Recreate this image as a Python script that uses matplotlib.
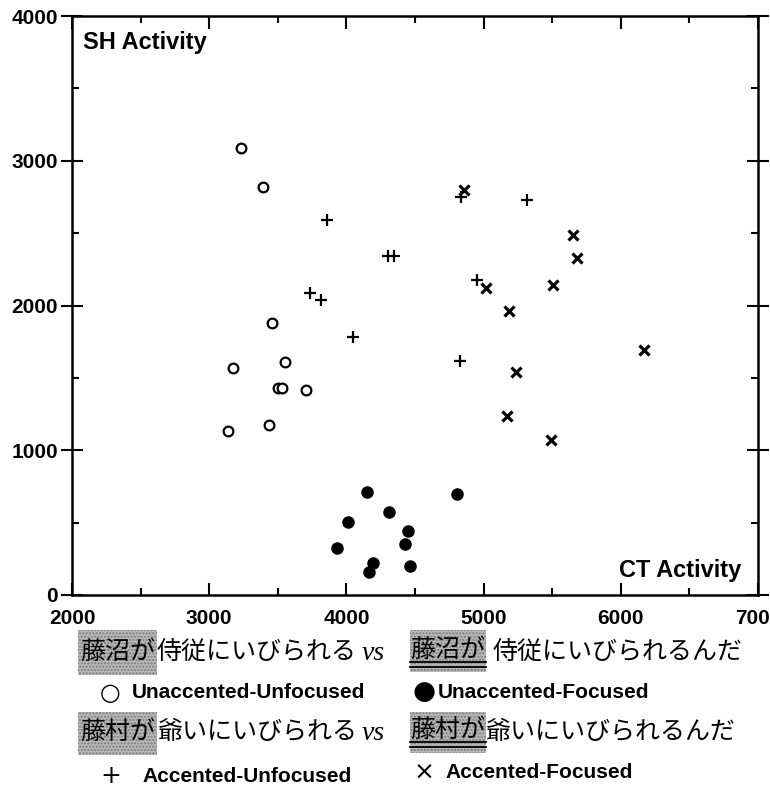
import numpy as np
import matplotlib.pyplot as plt
from matplotlib.patches import Rectangle
from matplotlib.lines import Line2D
from matplotlib.ticker import MultipleLocator


# Data (CT activity, SH activity)

unacc_unfoc_x = [3230, 3390, 3460, 3175, 3555, 3500, 3530, 3705, 3140, 3435]
unacc_unfoc_y = [3090, 2820, 1880, 1570, 1610, 1430, 1430, 1415, 1130, 1175]

unacc_foc_x = [4150, 4310, 4010, 3935, 4195, 4165, 4805, 4450, 4430, 4465]
unacc_foc_y = [710, 575, 505, 325, 220, 160, 695, 445, 350, 200]

acc_unfoc_x = [3860, 4300, 4350, 3735, 3815, 4045, 4835, 5315, 4950, 4825]
acc_unfoc_y = [2590, 2345, 2345, 2085, 2035, 1780, 2750, 2730, 2175, 1615]

acc_foc_x = [4860, 5655, 5680, 5015, 5505, 5185, 6170, 5235, 5170, 5490]
acc_foc_y = [2795, 2485, 2325, 2120, 2145, 1965, 1690, 1540, 1235, 1070]

x_ticks = [2000, 3000, 4000, 5000, 6000, 7000]
y_ticks = [0, 1000, 2000, 3000, 4000]

W, H = 770, 788
bold = {'family': 'Liberation Sans', 'weight': 'bold'}
jp = ['Noto Sans CJK JP', 'DejaVu Sans']


def fx(px):
    return px / W


def fy(py):
    return 1 - py / H


fig = plt.figure(figsize=(W / 100, H / 100), dpi=100)
ax = fig.add_axes([fx(72), fy(595), fx(758) - fx(72), fy(16) - fy(595)])

ax.plot(unacc_unfoc_x, unacc_unfoc_y, 'o', ms=7, mfc='white', mec='black', mew=1.6)
ax.plot(unacc_foc_x, unacc_foc_y, 'o', ms=8, mfc='black', mec='black')
ax.plot(acc_unfoc_x, acc_unfoc_y, '+', ms=9, mec='black', mew=1.6)
ax.plot(acc_foc_x, acc_foc_y, 'x', ms=7.5, mec='black', mew=2.3)

ax.set_xlim(2000, 7000)
ax.set_ylim(0, 4000)
ax.set_xticks(x_ticks)
ax.set_yticks(y_ticks)
ax.xaxis.set_minor_locator(MultipleLocator(500))
ax.yaxis.set_minor_locator(MultipleLocator(500))
ax.set_xticklabels([str(t) for t in x_ticks], fontdict=bold, fontsize=15)
ax.set_yticklabels([str(t) for t in y_ticks], fontdict=bold, fontsize=15)
ax.tick_params(axis='x', which='both', direction='in', top=True, width=1.5)
ax.tick_params(axis='x', which='major', length=9, pad=10)
ax.tick_params(axis='x', which='minor', length=5)
ax.tick_params(axis='y', which='both', right=True, width=1.5)
ax.tick_params(axis='y', which='major', direction='inout', length=16, pad=2)
ax.tick_params(axis='y', which='minor', direction='in', length=5)
for s in ax.spines.values():
    s.set_linewidth(1.8)

ax.text(0.016, 0.955, 'SH Activity', transform=ax.transAxes, fontsize=17,
        ha='left', va='center', **bold)
ax.text(0.975, 0.043, 'CT Activity', transform=ax.transAxes, fontsize=17,
        ha='right', va='center', **bold)

# Caption lines under the chart


def shade(x0, x1, y0, y1):
    fig.patches.append(Rectangle((fx(x0), fy(y1)), fx(x1) - fx(x0), fy(y0) - fy(y1),
                                 transform=fig.transFigure, facecolor='#b8b8b8',
                                 hatch='.....', edgecolor='#7a7a7a', linewidth=0,
                                 zorder=0))


def dunder(x0, x1, y):
    for dy in (0, 5):
        fig.lines.append(Line2D([fx(x0), fx(x1)], [fy(y + dy), fy(y + dy)],
                                transform=fig.transFigure, color='black', lw=1.3))


def jtext(px, py, s):
    fig.text(fx(px), fy(py), s, family=jp, fontsize=18, ha='left', va='center')


shade(78, 157, 630, 675)
shade(410, 486, 630, 672)
dunder(410, 486, 662)
jtext(80, 652, '藤沼が')
jtext(157, 652, '侍従にいびられる')
fig.text(fx(362), fy(654), 'vs', family='Liberation Serif', style='italic',
         fontsize=20, ha='left', va='center')
jtext(410, 650, '藤沼が')
jtext(493, 652, '侍従にいびられるんだ')

fig.text(fx(110), fy(693), '○', family='DejaVu Sans', fontsize=17, ha='center', va='center')
fig.text(fx(132), fy(693), 'Unaccented-Unfocused', fontsize=15, ha='left', va='center', **bold)
fig.text(fx(424), fy(692), '●', family='DejaVu Sans', fontsize=19, ha='center', va='center')
fig.text(fx(438), fy(692), 'Unaccented-Focused', fontsize=15, ha='left', va='center', **bold)

shade(78, 157, 712, 755)
shade(410, 486, 712, 753)
dunder(410, 486, 742)
jtext(80, 732, '藤村が')
jtext(157, 732, '爺いにいびられる')
fig.text(fx(362), fy(734), 'vs', family='Liberation Serif', style='italic',
         fontsize=20, ha='left', va='center')
jtext(410, 730, '藤村が')
jtext(485, 732, '爺いにいびられるんだ')

fig.text(fx(111), fy(776), '+', family='DejaVu Sans', fontsize=18, ha='center', va='center')
fig.text(fx(142), fy(777), 'Accented-Unfocused', fontsize=15, ha='left', va='center', **bold)
fig.text(fx(424), fy(773), '×', family='DejaVu Sans', fontsize=18, ha='center', va='center')
fig.text(fx(445), fy(773), 'Accented-Focused', fontsize=15, ha='left', va='center', **bold)

fig.savefig('out.png', dpi=100)
